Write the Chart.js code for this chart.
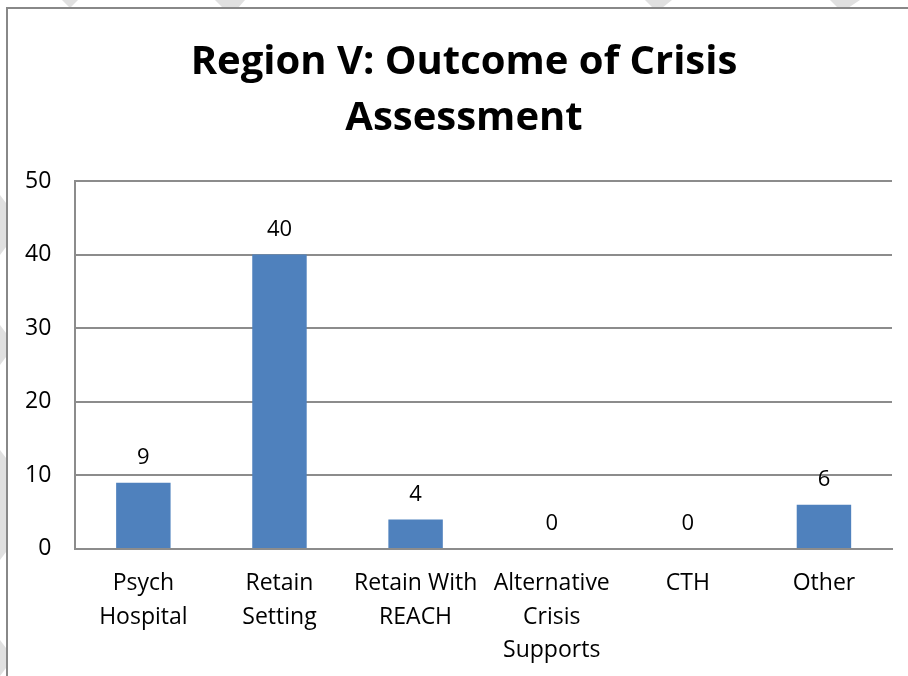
<!DOCTYPE html>
<html>
<head>
<meta charset="utf-8">
<script src="https://cdn.jsdelivr.net/npm/chart.js@4/dist/chart.umd.min.js"></script>
<style>
html,body{margin:0;padding:0;background:#fff;}
#wrap{position:relative;width:908px;height:676px;}
</style>
</head>
<body>
<div id="wrap"><canvas id="c" width="908" height="676"></canvas></div>
<script>
const categories = [['Psych','Hospital'],['Retain','Setting'],['Retain With','REACH'],['Alternative','Crisis','Supports'],['CTH'],['Other']];
const values = [9, 40, 4, 0, 0, 6];
const yTicks = [0, 10, 20, 30, 40, 50];
const titleLines = ['Region V: Outcome of Crisis', 'Assessment'];

const FONT = "'Open Sans', 'Liberation Sans', sans-serif";

const decor = {
  id: 'decor',
  beforeDraw(chart) {
    const ctx = chart.ctx;
    ctx.save();
    ctx.fillStyle = '#fff';
    ctx.fillRect(0, 0, chart.width, chart.height);
    ctx.fillStyle = '#e0e0e0';
    const wedges = [[62,0,78,0,70,8],[215,0,245,0,238,8],[645,0,672,0,662,8],[830,0,860,0,848,8]];
    wedges.forEach(w => { ctx.beginPath(); ctx.moveTo(w[0],w[1]); ctx.lineTo(w[2],w[3]); ctx.lineTo(w[4],w[5]); ctx.lineTo(w[0]+8,w[5]); ctx.closePath(); ctx.fill(); });
    const lw = [[195,255],[325,365],[450,560],[640,676]];
    lw.forEach(s => { ctx.beginPath(); ctx.moveTo(0,s[0]); ctx.lineTo(6,s[0]+8); ctx.lineTo(6,s[1]-8); ctx.lineTo(0,s[1]); ctx.closePath(); ctx.fill(); });
    ctx.strokeStyle = '#888';
    ctx.lineWidth = 2;
    ctx.beginPath();
    ctx.moveTo(7, 700); ctx.lineTo(7, 8); ctx.lineTo(920, 8);
    ctx.stroke();
    // title
    ctx.fillStyle = '#000';
    ctx.font = "bold 40px " + FONT;
    ctx.textAlign = 'center';
    ctx.textBaseline = 'middle';
    titleLines.forEach((t, i) => ctx.fillText(t, 464, 63 + i * 56));
    ctx.restore();
  },
  afterDatasetsDraw(chart) {
    const ctx = chart.ctx;
    const meta = chart.getDatasetMeta(0);
    ctx.save();
    ctx.font = "22px " + FONT;
    ctx.fillStyle = '#000';
    ctx.textAlign = 'center';
    ctx.textBaseline = 'middle';
    meta.data.forEach((bar, i) => {
      ctx.fillText(String(values[i]), bar.x, bar.y - 25);
    });
    ctx.restore();
  }
};

new Chart(document.getElementById('c'), {
  type: 'bar',
  data: {
    labels: categories,
    datasets: [{
      data: values,
      backgroundColor: '#4f81bd',
      borderWidth: 0,
      barPercentage: 0.4,
      categoryPercentage: 1.0
    }]
  },
  options: {
    responsive: false,
    animation: false,
    devicePixelRatio: 1,
    layout: { padding: { left: 1, right: 16, top: 181, bottom: -9 } },
    plugins: {
      legend: { display: false },
      tooltip: { enabled: false },
      title: { display: false }
    },
    scales: {
      x: {
        grid: { display: false, drawTicks: false },
        border: { color: '#8c8c8c', width: 2 },
        ticks: {
          color: '#000',
          font: { family: FONT, size: 23, lineHeight: 1.45 },
          padding: 18,
          maxRotation: 0,
          autoSkip: false
        }
      },
      y: {
        min: 0, max: 50,
        afterBuildTicks(axis) { axis.ticks = yTicks.map(v => ({ value: v })); },
        grid: { color: '#8c8c8c', lineWidth: 2, drawTicks: false },
        border: { color: '#8c8c8c', width: 2 },
        ticks: {
          color: '#000',
          font: { family: FONT, size: 23 },
          padding: 24
        }
      }
    }
  },
  plugins: [decor]
});
</script>
</body>
</html>
